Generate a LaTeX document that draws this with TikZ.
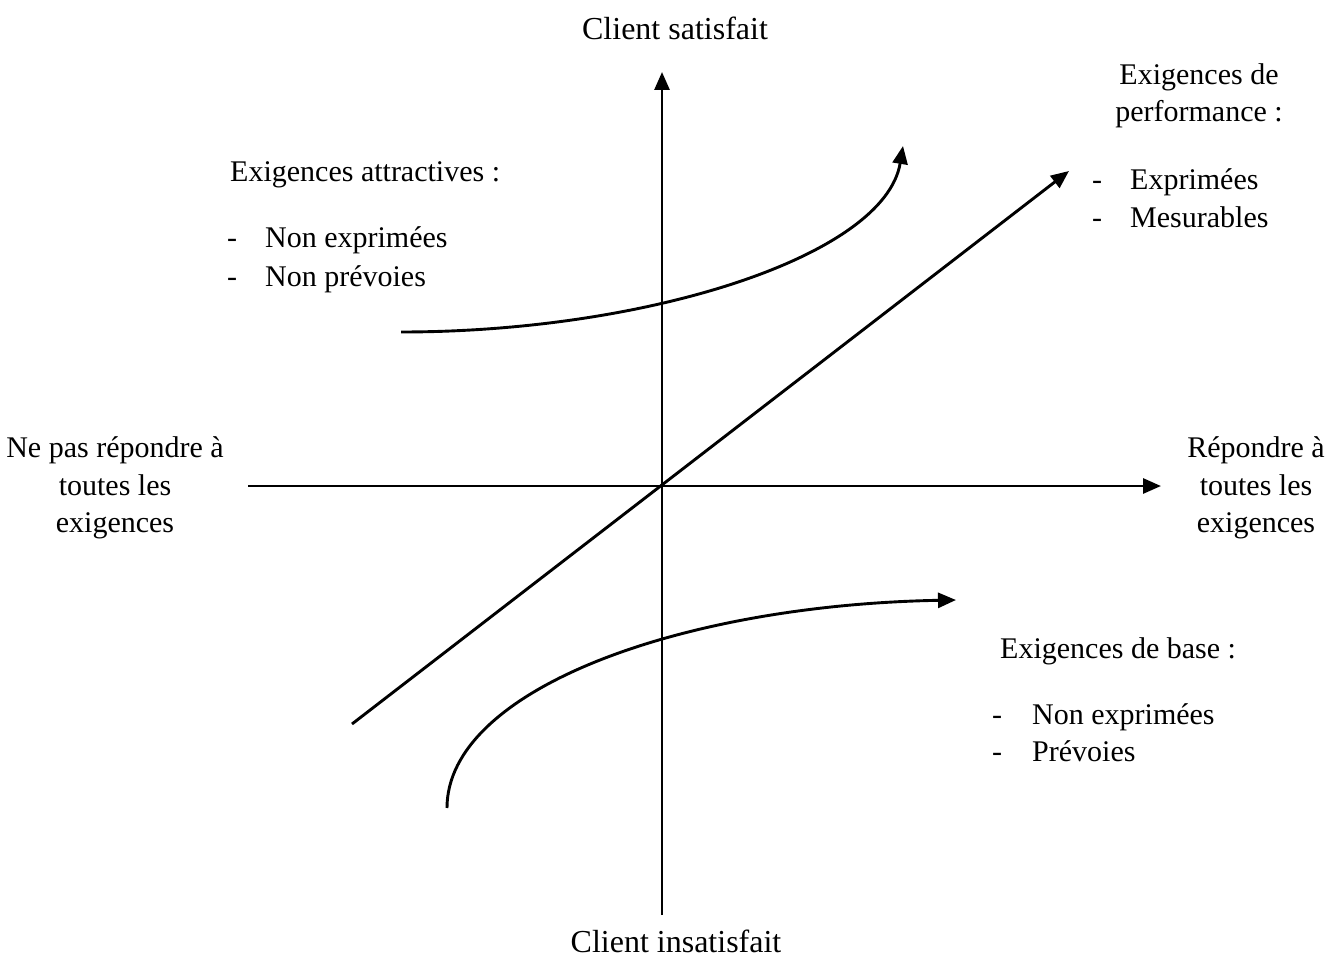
\documentclass[tikz,border=0pt]{standalone}
\usepackage{fontspec}
\setmainfont{Liberation Serif}
\usetikzlibrary{arrows.meta}
\begin{document}
\begin{tikzpicture}[x=1pt,y=-1pt,
  lbl/.style={inner sep=0pt,font=\fontsize{30}{37.5}\selectfont},
  one/.style={lbl,text height=0.68em,text depth=0.2em},
  big/.style={one,font=\fontsize{32}{38}\selectfont},
  ctr/.style={lbl,align=center},
  item/.style={one,anchor=west},
  axis/.style={line width=2.9pt,-{Triangle[length=18pt,width=15pt]}},
  curve/.style={line width=2.9pt,-{Triangle[length=18pt,width=15pt]}}]
\useasboundingbox (0,0) rectangle (1341,960);
\fill[white] (0,0) rectangle (1341,960);

% axes
\coordinate (vbot) at (662,915);
\coordinate (vtop) at (662,72);
\coordinate (hl) at (248,486);
\coordinate (hr) at (1161,486);
\draw[axis] (vbot) -- (vtop);
\draw[axis] (hl) -- (hr);

% performance line
\coordinate (ds) at (352,724);
\coordinate (de) at (1069,171);
\draw[curve] (ds) -- (de);

% attractive requirements curve
\coordinate (as) at (401,332);
\coordinate (ae) at (903,146);
\draw[curve] (as) .. controls (650,332) and (885,255) .. (ae);

% basic requirements curve
\coordinate (bs) at (447,808);
\coordinate (be) at (956,600);
\draw[curve] (bs) .. controls (447,690) and (680,605) .. (be);

% axis labels
\node[big] (top) at (675,37) {Client satisfait};
\node[big] (bot) at (676,950) {Client insatisfait};
\node[ctr] (left) at (115,488) {Ne pas répondre à\\toutes les\\exigences};
\node[ctr] (right) at (1256,488) {Répondre à\\toutes les\\exigences};

% performance requirements
\node[ctr] (perf) at (1199,96) {Exigences de\\performance :};
\node[item] (p1) at (1092,187) {\makebox[38pt][l]{-}Exprimées};
\node[item] (p2) at (1092,225) {\makebox[38pt][l]{-}Mesurables};

% attractive requirements
\node[item] (att) at (230,179) {Exigences attractives :};
\node[item] (a1) at (227,245) {\makebox[38pt][l]{-}Non exprimées};
\node[item] (a2) at (227,284) {\makebox[38pt][l]{-}Non prévoies};

% basic requirements
\node[item] (base) at (1000,656) {Exigences de base :};
\node[item] (b1) at (992,722) {\makebox[40pt][l]{-}Non exprimées};
\node[item] (b2) at (992,759) {\makebox[40pt][l]{-}Prévoies};
\end{tikzpicture}
\end{document}
